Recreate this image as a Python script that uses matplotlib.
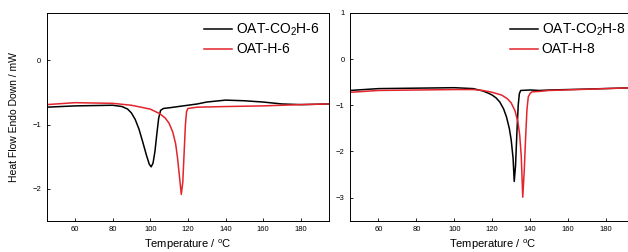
import numpy as np
import matplotlib
matplotlib.use("Agg")
import matplotlib.pyplot as plt

# panel 1 (n = 6)
t_co2h_6 = [45, 60, 80, 85, 88, 90, 92, 94, 96, 98, 99.5, 100.5, 101.5, 102.5, 103.5, 104.5,
            105.5, 107, 110, 120, 125, 130, 140, 150, 160, 170, 180, 195]
hf_co2h_6 = [-0.73, -0.71, -0.70, -0.72, -0.76, -0.82, -0.92, -1.07, -1.27, -1.48, -1.62,
             -1.66, -1.60, -1.42, -1.15, -0.90, -0.78, -0.75, -0.74, -0.70, -0.68, -0.65,
             -0.62, -0.63, -0.65, -0.68, -0.69, -0.68]
t_h_6 = [45, 60, 80, 90, 100, 105, 108, 110, 112, 113.5, 114.5, 115.5, 116.5, 117.3, 118,
         118.7, 119.3, 120, 125, 140, 160, 180, 195]
hf_h_6 = [-0.69, -0.66, -0.67, -0.70, -0.76, -0.83, -0.90, -0.98, -1.12, -1.30, -1.52, -1.80,
          -2.09, -1.90, -1.45, -1.00, -0.80, -0.75, -0.73, -0.72, -0.71, -0.69, -0.68]

# panel 2 (n = 8)
t_co2h_8 = [45, 60, 80, 100, 110, 115, 118, 120, 122, 124, 126, 127.5, 129, 130, 131, 131.6,
            132.3, 133, 133.7, 134.3, 135, 140, 145, 150, 170, 195]
hf_co2h_8 = [-0.68, -0.64, -0.63, -0.62, -0.64, -0.69, -0.74, -0.78, -0.84, -0.93, -1.08,
             -1.25, -1.50, -1.75, -2.15, -2.65, -2.30, -1.60, -1.00, -0.75, -0.68, -0.67,
             -0.68, -0.67, -0.65, -0.62]
t_h_8 = [45, 60, 80, 100, 110, 115, 120, 125, 128, 130, 132, 133.5, 134.5, 135.3, 136.1, 136.9,
         137.6, 138.3, 139, 140, 141, 145, 150, 180, 195]
hf_h_8 = [-0.72, -0.68, -0.67, -0.66, -0.66, -0.68, -0.72, -0.78, -0.86, -0.95, -1.12, -1.35,
          -1.65, -2.10, -2.99, -2.40, -1.70, -1.10, -0.82, -0.74, -0.71, -0.70, -0.68, -0.64,
          -0.62]

RED = '#e3242b'

plt.rcParams['font.family'] = ['Liberation Sans', 'DejaVu Sans']
plt.rcParams['mathtext.fontset'] = 'custom'
plt.rcParams['mathtext.rm'] = 'Liberation Sans'
plt.rcParams['mathtext.it'] = 'Liberation Sans'
plt.rcParams['mathtext.default'] = 'rm'

fig = plt.figure(figsize=(6.28, 2.52), dpi=100)

ax1 = fig.add_axes([0.0744, 0.124, 0.4495, 0.825])
ax2 = fig.add_axes([0.5573, 0.124, 0.453, 0.825])

panels = [
    (ax1, t_co2h_6, hf_co2h_6, t_h_6, hf_h_6, 'OAT-CO$_2$H-6', 'OAT-H-6', (-2.5, 0.74), [-2, -1, 0]),
    (ax2, t_co2h_8, hf_co2h_8, t_h_8, hf_h_8, 'OAT-CO$_2$H-8', 'OAT-H-8', (-3.5, 1.0), [-3, -2, -1, 0, 1]),
]

for ax, tb, yb, tr, yr, lb, lr, ylim, yt in panels:
    ax.plot(tb, yb, color='black', lw=1.1, label=lb)
    ax.plot(tr, yr, color=RED, lw=1.1, label=lr)
    ax.set_xlim(45, 195)
    ax.set_ylim(*ylim)
    ax.set_xticks([60, 80, 100, 120, 140, 160, 180])
    ax.set_yticks(yt)
    ax.tick_params(direction='in', length=2.5, width=0.6, labelsize=5.5, pad=4)
    for s in ax.spines.values():
        s.set_linewidth(0.7)
    ax.set_xlabel('Temperature / $^{o}$C', fontsize=8, labelpad=3)
    ax.legend(loc='upper right', frameon=False, fontsize=10, handlelength=2.0,
              handletextpad=0.3, labelspacing=0.3, borderaxespad=0.25)

ax1.set_ylabel('Heat Flow Endo Down / mW', fontsize=7.5, labelpad=10)

fig.savefig('out.png', dpi=100)
